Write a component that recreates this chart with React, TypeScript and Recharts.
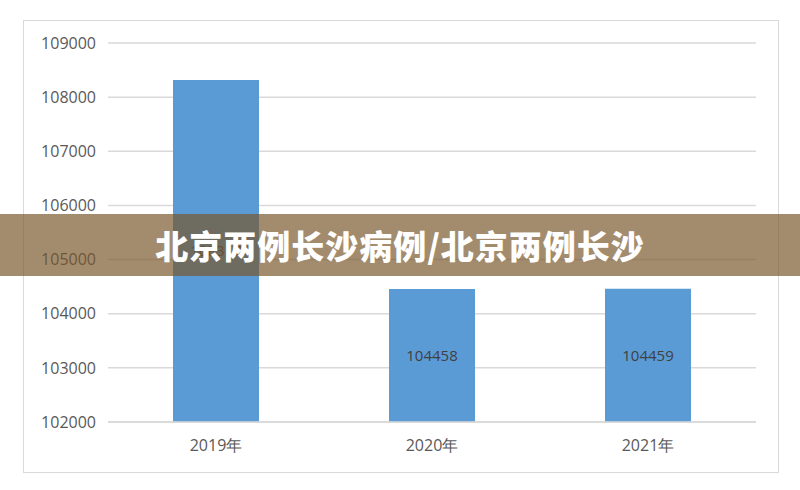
import { Bar, BarChart, CartesianGrid, LabelList, XAxis, YAxis } from "recharts";

const years = ["2019年", "2020年", "2021年"];
const cases = [108317, 104458, 104459];
const yTicks = [102000, 103000, 104000, 105000, 106000, 107000, 108000, 109000];
const title = "北京两例长沙病例/北京两例长沙";

const data = years.map((year, i) => ({ year, value: cases[i] }));

const axisFont = { fill: "#595959", fontSize: 16, fontFamily: "Open Sans, sans-serif" };

export default function App() {
  return (
    <div style={{ position: "absolute", left: 0, top: 0, width: 800, height: 490, background: "#fff" }}>
      <div
        style={{
          position: "absolute",
          left: 23,
          top: 20,
          width: 754,
          height: 451,
          border: "1px solid #d9d9d9",
        }}
      />
      <div style={{ position: "absolute", left: 0, top: 0 }}>
        <BarChart
          width={800}
          height={490}
          data={data}
          margin={{ top: 43, right: 44, bottom: 0, left: 0 }}
        >
          <CartesianGrid vertical={false} stroke="#d9d9d9" strokeWidth={1.5} />
          <XAxis
            dataKey="year"
            height={68}
            tickLine={false}
            tickSize={0}
            tickMargin={18}
            axisLine={{ stroke: "#d9d9d9", strokeWidth: 1.5 }}
            tick={axisFont}
          />
          <YAxis
            width={108}
            domain={[102000, 109000]}
            ticks={yTicks}
            interval={0}
            tickLine={false}
            axisLine={false}
            tickSize={0}
            tickMargin={12}
            tick={axisFont}
          />
          <Bar dataKey="value" fill="#5b9bd5" barSize={86} isAnimationActive={false}>
            <LabelList
              dataKey="value"
              position="center"
              fill="#404040"
              fontSize={15}
              fontFamily="Open Sans, sans-serif"
            />
          </Bar>
        </BarChart>
      </div>
      <div
        style={{
          position: "absolute",
          left: 0,
          top: 214,
          width: 800,
          height: 62,
          background: "rgba(120, 86, 42, 0.68)",
          display: "flex",
          alignItems: "center",
          justifyContent: "center",
          color: "#fff",
          fontFamily: "'Noto Sans CJK SC', sans-serif",
          fontWeight: 900,
          fontSize: 33,
          letterSpacing: 1,
        }}
      >
        {title}
      </div>
    </div>
  );
}
